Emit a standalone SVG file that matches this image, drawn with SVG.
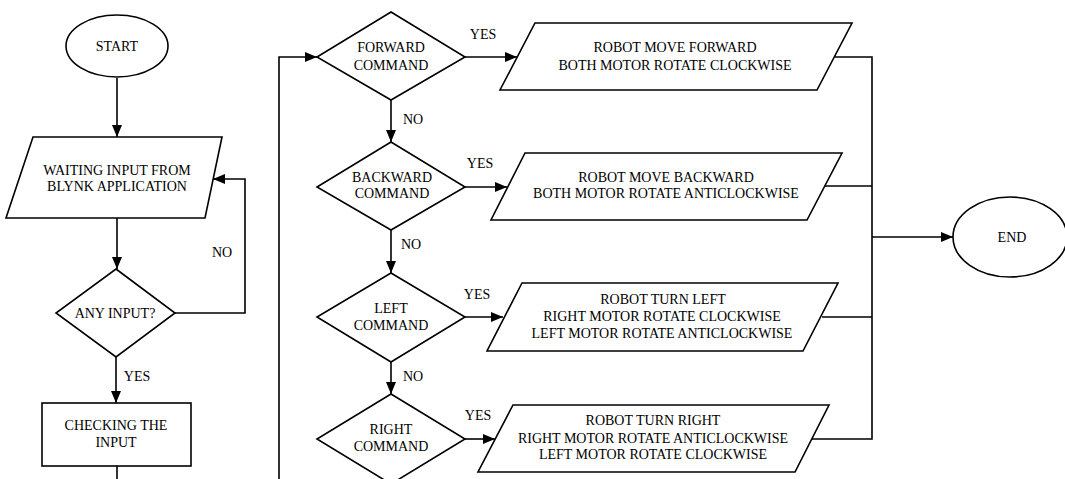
<svg xmlns="http://www.w3.org/2000/svg" width="1065" height="479" viewBox="0 0 1065 479">
<defs>
<marker id="ah" markerUnits="userSpaceOnUse" markerWidth="12" markerHeight="10" refX="12" refY="5" orient="auto">
<path d="M0,0 L12,5 L0,10 Z" fill="#000"/>
</marker>
<style>
.s{fill:#fff;stroke:#000;stroke-width:1.6}
.c{fill:none;stroke:#000;stroke-width:1.6}
.a{fill:none;stroke:#000;stroke-width:1.6;marker-end:url(#ah)}
text{font-family:"Liberation Serif","Times New Roman",serif;font-size:14px;fill:#000;text-anchor:middle;dominant-baseline:central}
</style>
</defs>
<rect width="1065" height="479" fill="#fff"/>
<g id="connectors">
<path class="a" d="M117,78 V137"/>
<path class="a" d="M117,218 V269"/>
<path class="a" d="M175,313 H245 V179 H213"/>
<path class="a" d="M116,357 V403"/>
<path class="c" d="M117,466 V479"/>
<path class="a" d="M279,479 V57 H317"/>
<path class="a" d="M465,57 H517"/>
<path class="a" d="M391,100 V142"/>
<path class="a" d="M465,187 H507"/>
<path class="a" d="M391,230 V273"/>
<path class="a" d="M465,317 H503"/>
<path class="a" d="M391,362 V394"/>
<path class="a" d="M465,439 H495"/>
<path class="c" d="M835,57 H872 V439 H812"/>
<path class="c" d="M825,186 H872"/>
<path class="c" d="M822,317 H872"/>
<path class="a" d="M872,237 H953"/>
<text x="222" y="252">NO</text>
<text x="137" y="376">YES</text>
<text x="483" y="34">YES</text>
<text x="413" y="119">NO</text>
<text x="480" y="163">YES</text>
<text x="411" y="244">NO</text>
<text x="477" y="294">YES</text>
<text x="413" y="376">NO</text>
<text x="478" y="415">YES</text>
</g>
<g id="start">
<ellipse class="s" cx="117" cy="46" rx="51" ry="31"/>
<text x="117" y="46">START</text>
</g>
<g id="waiting">
<path class="s" d="M33,137 H222 L205,218 H6 Z"/>
<text x="117" y="170">WAITING INPUT FROM</text>
<text x="117" y="186">BLYNK APPLICATION</text>
</g>
<g id="anyinput">
<path class="s" d="M116,269 L175,313 L116,357 L56,313 Z"/>
<text x="115" y="313">ANY INPUT?</text>
</g>
<g id="checking">
<rect class="s" x="42" y="403" width="149" height="63"/>
<text x="116" y="425">CHECKING THE</text>
<text x="116" y="442">INPUT</text>
</g>
<g id="forward">
<path class="s" d="M391,12 L465,57 L391,100 L317,57 Z"/>
<text x="391" y="47">FORWARD</text>
<text x="391" y="65">COMMAND</text>
</g>
<g id="moveforward">
<path class="s" d="M535,23 H852 L817,90 H500 Z"/>
<text x="675" y="47">ROBOT MOVE FORWARD</text>
<text x="675" y="65">BOTH MOTOR ROTATE CLOCKWISE</text>
</g>
<g id="backward">
<path class="s" d="M391,142 L465,187 L391,230 L317,187 Z"/>
<text x="392" y="177">BACKWARD</text>
<text x="392" y="193">COMMAND</text>
</g>
<g id="movebackward">
<path class="s" d="M525,153 H842 L807,220 H491 Z"/>
<text x="666" y="177">ROBOT MOVE BACKWARD</text>
<text x="666" y="193">BOTH MOTOR ROTATE ANTICLOCKWISE</text>
</g>
<g id="left">
<path class="s" d="M391,273 L465,317 L391,362 L317,317 Z"/>
<text x="391" y="308">LEFT</text>
<text x="391" y="325">COMMAND</text>
</g>
<g id="turnleft">
<path class="s" d="M522,283 H838 L803,351 H487 Z"/>
<text x="663" y="299">ROBOT TURN LEFT</text>
<text x="662" y="316">RIGHT MOTOR ROTATE CLOCKWISE</text>
<text x="662" y="333">LEFT MOTOR ROTATE ANTICLOCKWISE</text>
</g>
<g id="right">
<path class="s" d="M391,394 L465,439 L391,484 L317,439 Z"/>
<text x="391" y="429">RIGHT</text>
<text x="391" y="446">COMMAND</text>
</g>
<g id="turnright">
<path class="s" d="M513,405 H829 L795,472 H478 Z"/>
<text x="653" y="420">ROBOT TURN RIGHT</text>
<text x="653" y="438">RIGHT MOTOR ROTATE ANTICLOCKWISE</text>
<text x="653" y="454">LEFT MOTOR ROTATE CLOCKWISE</text>
</g>
<g id="end">
<ellipse class="s" cx="1010" cy="237" rx="57" ry="40"/>
<text x="1012" y="237">END</text>
</g>
</svg>
